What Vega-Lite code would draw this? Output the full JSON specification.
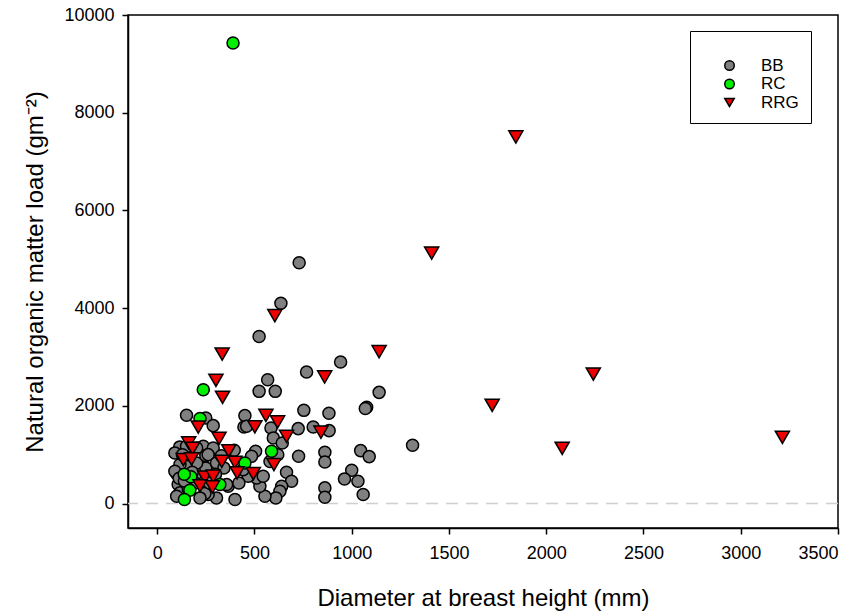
{
  "$schema": "https://vega.github.io/schema/vega-lite/v6.json",
  "width": 710,
  "height": 513,
  "autosize": "none",
  "padding": {"left": 128, "top": 15, "right": 23, "bottom": 87},
  "background": "white",
  "config": {
    "font": "Liberation Sans",
    "view": {"stroke": "black", "strokeWidth": 1.5},
    "axis": {
      "grid": false,
      "domainColor": "black",
      "domainWidth": 1.5,
      "tickColor": "black",
      "tickWidth": 1.5,
      "tickSize": 6,
      "labelFont": "Liberation Sans",
      "labelFontSize": 18,
      "labelColor": "black",
      "titleFont": "Liberation Sans",
      "titleFontSize": 24,
      "titleFontWeight": "normal",
      "titleColor": "black",
      "format": "d"
    },
    "legend": {
      "orient": "none",
      "legendX": 562,
      "legendY": 16,
      "strokeColor": "black",
      "fillColor": "white",
      "padding": 12,
      "titleFontSize": 10,
      "titlePadding": 4,
      "symbolSize": 90,
      "symbolStrokeWidth": 1.5,
      "symbolOffset": 19,
      "labelOffset": 23,
      "labelFontSize": 17,
      "labelFont": "Liberation Sans",
      "labelColor": "black",
      "rowPadding": 0.5
    }
  },
  "datasets": {
    "zero": [{"y": 0}],
    "pts": [
      {"series": "BB", "dbh": 943, "load": 2898},
      {"series": "BB", "dbh": 1141, "load": 2276},
      {"series": "BB", "dbh": 1077, "load": 1970},
      {"series": "BB", "dbh": 1070, "load": 1945},
      {"series": "BB", "dbh": 883, "load": 1847},
      {"series": "BB", "dbh": 884, "load": 1493},
      {"series": "BB", "dbh": 1313, "load": 1193},
      {"series": "BB", "dbh": 1046, "load": 1084},
      {"series": "BB", "dbh": 1090, "load": 961},
      {"series": "BB", "dbh": 1000, "load": 682},
      {"series": "BB", "dbh": 963, "load": 505},
      {"series": "BB", "dbh": 1032, "load": 456},
      {"series": "BB", "dbh": 1059, "load": 184},
      {"series": "BB", "dbh": 862, "load": 1049},
      {"series": "BB", "dbh": 862, "load": 852},
      {"series": "BB", "dbh": 862, "load": 321},
      {"series": "BB", "dbh": 862, "load": 129},
      {"series": "BB", "dbh": 524, "load": 3421},
      {"series": "BB", "dbh": 636, "load": 4100},
      {"series": "BB", "dbh": 730, "load": 4930},
      {"series": "BB", "dbh": 768, "load": 2693},
      {"series": "BB", "dbh": 568, "load": 2536},
      {"series": "BB", "dbh": 524, "load": 2297},
      {"series": "BB", "dbh": 607, "load": 2297},
      {"series": "BB", "dbh": 754, "load": 1908},
      {"series": "BB", "dbh": 451, "load": 1800},
      {"series": "BB", "dbh": 151, "load": 1806},
      {"series": "BB", "dbh": 250, "load": 1752},
      {"series": "BB", "dbh": 288, "load": 1595},
      {"series": "BB", "dbh": 446, "load": 1568},
      {"series": "BB", "dbh": 585, "load": 1548},
      {"series": "BB", "dbh": 597, "load": 1344},
      {"series": "BB", "dbh": 643, "load": 1241},
      {"series": "BB", "dbh": 725, "load": 1534},
      {"series": "BB", "dbh": 802, "load": 1568},
      {"series": "BB", "dbh": 727, "load": 967},
      {"series": "BB", "dbh": 665, "load": 640},
      {"series": "BB", "dbh": 691, "load": 456},
      {"series": "BB", "dbh": 640, "load": 354},
      {"series": "BB", "dbh": 631, "load": 252},
      {"series": "BB", "dbh": 610, "load": 116},
      {"series": "BB", "dbh": 554, "load": 150},
      {"series": "BB", "dbh": 528, "load": 354},
      {"series": "BB", "dbh": 511, "load": 525},
      {"series": "BB", "dbh": 468, "load": 558},
      {"series": "BB", "dbh": 545, "load": 558},
      {"series": "BB", "dbh": 400, "load": 82},
      {"series": "BB", "dbh": 305, "load": 116},
      {"series": "BB", "dbh": 365, "load": 354},
      {"series": "BB", "dbh": 262, "load": 184},
      {"series": "BB", "dbh": 108, "load": 389},
      {"series": "BB", "dbh": 117, "load": 219},
      {"series": "BB", "dbh": 100, "load": 613},
      {"series": "BB", "dbh": 206, "load": 627},
      {"series": "BB", "dbh": 250, "load": 730},
      {"series": "BB", "dbh": 203, "load": 832},
      {"series": "BB", "dbh": 148, "load": 763},
      {"series": "BB", "dbh": 116, "load": 1160},
      {"series": "BB", "dbh": 237, "load": 1172},
      {"series": "BB", "dbh": 288, "load": 1139},
      {"series": "BB", "dbh": 396, "load": 1090},
      {"series": "BB", "dbh": 250, "load": 982},
      {"series": "BB", "dbh": 506, "load": 1070},
      {"series": "BB", "dbh": 151, "load": 1172},
      {"series": "BB", "dbh": 203, "load": 1139},
      {"series": "BB", "dbh": 91, "load": 1037},
      {"series": "BB", "dbh": 117, "load": 798},
      {"series": "BB", "dbh": 262, "load": 1002},
      {"series": "BB", "dbh": 305, "load": 832},
      {"series": "BB", "dbh": 485, "load": 967},
      {"series": "BB", "dbh": 442, "load": 695},
      {"series": "BB", "dbh": 91, "load": 661},
      {"series": "BB", "dbh": 113, "load": 520},
      {"series": "BB", "dbh": 343, "load": 730},
      {"series": "BB", "dbh": 357, "load": 389},
      {"series": "BB", "dbh": 194, "load": 423},
      {"series": "BB", "dbh": 245, "load": 204},
      {"series": "BB", "dbh": 100, "load": 150},
      {"series": "BB", "dbh": 220, "load": 116},
      {"series": "BB", "dbh": 460, "load": 1581},
      {"series": "BB", "dbh": 580, "load": 860},
      {"series": "BB", "dbh": 620, "load": 1000},
      {"series": "BB", "dbh": 420, "load": 420},
      {"series": "BB", "dbh": 160, "load": 300},
      {"series": "BB", "dbh": 130, "load": 1000},
      {"series": "BB", "dbh": 180, "load": 640},
      {"series": "BB", "dbh": 300, "load": 600},
      {"series": "BB", "dbh": 330, "load": 980},
      {"series": "BB", "dbh": 270, "load": 420},
      {"series": "BB", "dbh": 140, "load": 460},
      {"series": "RC", "dbh": 390, "load": 9427},
      {"series": "RC", "dbh": 237, "load": 2331},
      {"series": "RC", "dbh": 220, "load": 1740},
      {"series": "RC", "dbh": 588, "load": 1070},
      {"series": "RC", "dbh": 451, "load": 832},
      {"series": "RC", "dbh": 173, "load": 550},
      {"series": "RC", "dbh": 139, "load": 600},
      {"series": "RC", "dbh": 322, "load": 389},
      {"series": "RC", "dbh": 168, "load": 272},
      {"series": "RC", "dbh": 140, "load": 82},
      {"series": "RRG", "dbh": 1411, "load": 5127},
      {"series": "RRG", "dbh": 1141, "load": 3108},
      {"series": "RRG", "dbh": 861, "load": 2591},
      {"series": "RRG", "dbh": 1722, "load": 2010},
      {"series": "RRG", "dbh": 2082, "load": 1130},
      {"series": "RRG", "dbh": 2242, "load": 2652},
      {"series": "RRG", "dbh": 3214, "load": 1356},
      {"series": "RRG", "dbh": 1844, "load": 7505},
      {"series": "RRG", "dbh": 605, "load": 3845},
      {"series": "RRG", "dbh": 334, "load": 3061},
      {"series": "RRG", "dbh": 302, "load": 2522},
      {"series": "RRG", "dbh": 336, "load": 2174},
      {"series": "RRG", "dbh": 559, "load": 1803},
      {"series": "RRG", "dbh": 619, "load": 1670},
      {"series": "RRG", "dbh": 502, "load": 1570},
      {"series": "RRG", "dbh": 211, "load": 1565},
      {"series": "RRG", "dbh": 842, "load": 1460},
      {"series": "RRG", "dbh": 665, "load": 1377},
      {"series": "RRG", "dbh": 318, "load": 1334},
      {"series": "RRG", "dbh": 162, "load": 1241},
      {"series": "RRG", "dbh": 182, "load": 1130},
      {"series": "RRG", "dbh": 368, "load": 1080},
      {"series": "RRG", "dbh": 134, "load": 900},
      {"series": "RRG", "dbh": 177, "load": 914},
      {"series": "RRG", "dbh": 332, "load": 865},
      {"series": "RRG", "dbh": 400, "load": 845},
      {"series": "RRG", "dbh": 600, "load": 798},
      {"series": "RRG", "dbh": 411, "load": 630},
      {"series": "RRG", "dbh": 494, "load": 613},
      {"series": "RRG", "dbh": 245, "load": 540},
      {"series": "RRG", "dbh": 288, "load": 560},
      {"series": "RRG", "dbh": 220, "load": 364},
      {"series": "RRG", "dbh": 284, "load": 340}
    ]
  },
  "encoding": {
    "x": {
      "field": "dbh", "type": "quantitative",
      "scale": {"domain": [-150, 3500], "nice": false, "zero": false},
      "axis": {"values": [0, 500, 1000, 1500, 2000, 2500, 3000, 3500], "title": "Diameter at breast height (mm)", "labelPadding": 10, "titlePadding": 24}
    },
    "y": {
      "field": "load", "type": "quantitative",
      "scale": {"domain": [-500, 10000], "nice": false, "zero": false},
      "axis": {"values": [0, 2000, 4000, 6000, 8000, 10000], "title": "Natural organic matter load (gm⁻²)", "labelPadding": 8, "titlePadding": 16}
    },
    "fill": {
      "field": "series", "type": "nominal",
      "scale": {"domain": ["BB", "RC", "RRG"], "range": ["#808080", "#00f000", "#ee0000"]},
      "legend": {"title": " "}
    },
    "stroke": {
      "field": "series", "type": "nominal",
      "scale": {"domain": ["BB", "RC", "RRG"], "range": ["#000000", "#000000", "#000000"]},
      "legend": {"title": " "}
    },
    "shape": {
      "field": "series", "type": "nominal",
      "scale": {"domain": ["BB", "RC", "RRG"], "range": ["circle", "circle", "triangle-down"]},
      "legend": {"title": " "}
    }
  },
  "layer": [
    {
      "data": {"name": "zero"},
      "mark": {"type": "rule", "color": "#cfcfcf", "strokeWidth": 1.5, "strokeDash": [12, 8]},
      "encoding": {
        "x": null,
        "fill": null,
        "shape": null,
        "stroke": null,
        "y": {"field": "y", "type": "quantitative"}
      }
    },
    {
      "data": {"name": "pts"},
      "transform": [{"filter": "datum.series !== 'RRG'"}],
      "mark": {"type": "point", "filled": true, "strokeWidth": 1.5, "opacity": 1, "size": 145}
    },
    {
      "data": {"name": "pts"},
      "transform": [{"filter": "datum.series === 'RRG'"}],
      "mark": {"type": "point", "filled": true, "strokeWidth": 1.5, "opacity": 1, "size": 200}
    }
  ]
}
